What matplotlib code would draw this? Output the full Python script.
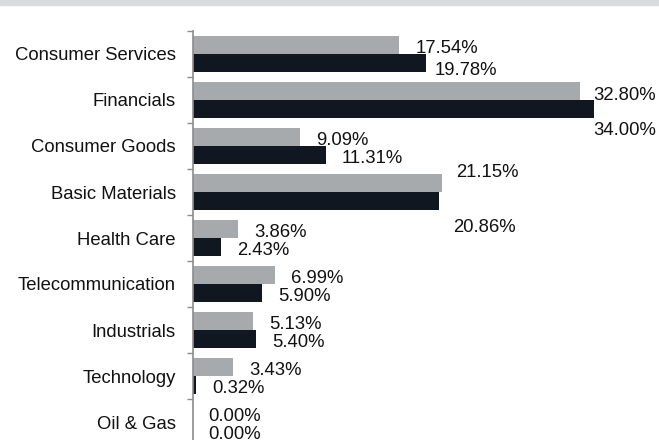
import matplotlib.pyplot as plt
from matplotlib.patches import Rectangle

plt.rcParams['font.family'] = ['Liberation Sans', 'DejaVu Sans']

categories = ["Consumer Services", "Financials", "Consumer Goods", "Basic Materials",
              "Health Care", "Telecommunication", "Industrials", "Technology", "Oil & Gas"]
series_a = [17.54, 32.80, 9.09, 21.15, 3.86, 6.99, 5.13, 3.43, 0.00]   # grey bars
series_b = [19.78, 34.00, 11.31, 20.86, 2.43, 5.90, 5.40, 0.32, 0.00]  # dark bars

grey = "#a6aaad"
dark = "#101721"

# label nudges (pixels right, pixels below bar centre to baseline); default (16, 8)
nudge_a = {1: (14, 9), 3: (14, -6)}
nudge_b = {0: (9, 12), 1: (0, 26), 3: (14, 31)}

fig = plt.figure(figsize=(6.59, 4.40), dpi=100)
fig.patches.append(Rectangle((0, 1 - 5 / 440), 1, 5 / 440, transform=fig.transFigure,
                             color="#d9dbdc", zorder=0))

ax = fig.add_axes([192.5 / 659, -5 / 440, 448.4 / 659, 414 / 440])
ys = list(range(len(categories)))
ax.barh([y - 0.2 for y in ys], series_a, height=0.4, color=grey)
ax.barh([y + 0.2 for y in ys], series_b, height=0.4, color=dark)

for i, (a, b) in enumerate(zip(series_a, series_b)):
    dx, dy = nudge_a.get(i, (16, 8))
    ax.annotate(f"{a:.2f}%", (a, i - 0.2), xytext=(dx, -dy), textcoords="offset pixels",
                ha="left", va="baseline", fontsize=13.3, color="#111111")
    dx, dy = nudge_b.get(i, (16, 8))
    ax.annotate(f"{b:.2f}%", (b, i + 0.2), xytext=(dx, -dy), textcoords="offset pixels",
                ha="left", va="baseline", fontsize=13.3, color="#111111")

ax.set_xlim(0, 38)
ax.set_ylim(len(categories) - 0.5, -0.5)
ax.set_yticks(ys)
ax.set_yticklabels(categories, fontsize=13.3, color="#111111")
ax.set_yticks([y - 0.5 for y in ys] + [len(categories) - 0.5], minor=True)
ax.tick_params(axis="y", which="major", length=0, pad=12)
ax.tick_params(axis="y", which="minor", length=4.5, width=1, color="#8c8c8c", direction="out")
ax.set_xticks([])
for s in ["top", "right", "bottom"]:
    ax.spines[s].set_visible(False)
ax.spines["left"].set_color("#8c8c8c")
ax.spines["left"].set_linewidth(1.2)

fig.savefig("out.png", dpi=100)
